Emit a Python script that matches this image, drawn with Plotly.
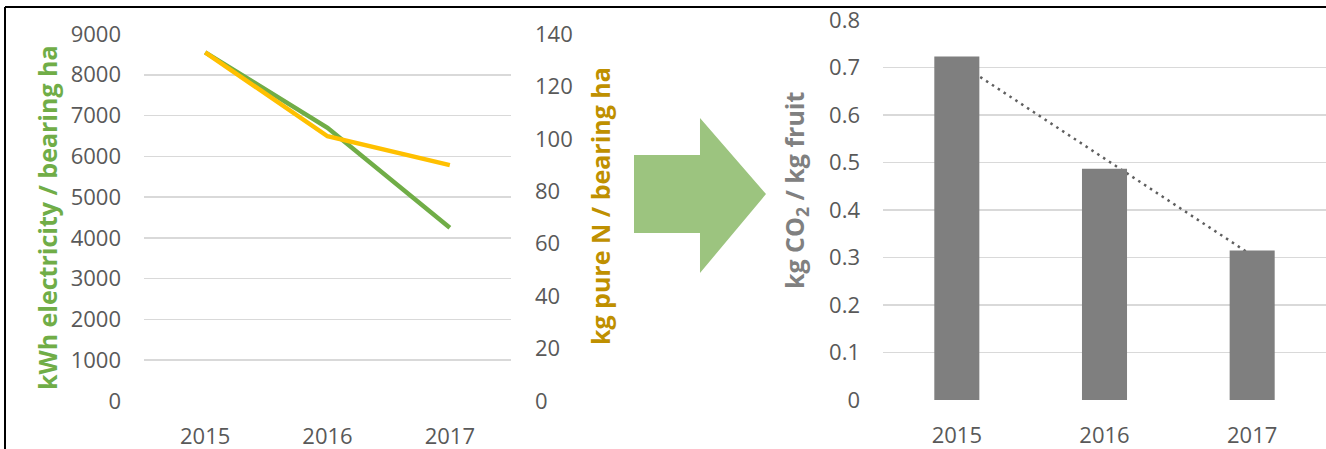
import numpy as np
import plotly.graph_objects as go

# ---- data ----
years = ["2015", "2016", "2017"]
kwh_electricity = [8550, 6700, 4250]      # kWh electricity / bearing ha
kg_pure_n = [133, 101, 90]                # kg pure N / bearing ha
kg_co2_per_kg = [0.723, 0.487, 0.315]     # kg CO2 / kg fruit

kwh_ticks = [0, 1000, 2000, 3000, 4000, 5000, 6000, 7000, 8000, 9000]
n_ticks = [0, 20, 40, 60, 80, 100, 120, 140]
co2_ticks = [0, 0.1, 0.2, 0.3, 0.4, 0.5, 0.6, 0.7, 0.8]

# linear trendline (as in the original chart)
idx = np.arange(len(years))
slope, icpt = np.polyfit(idx, kg_co2_per_kg, 1)
trend = list(slope * idx + icpt)

W, H = 1326, 449
FONT = "Open Sans"
TICK = "#595959"
GRID = "#D9D9D9"
GREEN = "#70AD47"
GOLD = "#FFC000"
GOLD_DARK = "#BF9000"
BAR = "#7F7F7F"


def px(x, y):
    return x / W, 1 - y / H


fig = go.Figure()

fig.add_trace(go.Scatter(x=years, y=kwh_electricity, mode="lines",
                         line=dict(color=GREEN, width=4.5),
                         xaxis="x", yaxis="y", name="kWh"))
fig.add_trace(go.Scatter(x=years, y=kg_pure_n, mode="lines",
                         line=dict(color=GOLD, width=4.5),
                         xaxis="x", yaxis="y2", name="N"))
fig.add_trace(go.Scatter(x=years, y=trend, mode="lines",
                         line=dict(color="#5F5F5F", width=2.5,
                                   dash="2.5px,4.5px"),
                         xaxis="x2", yaxis="y3", name="trend"))
fig.add_trace(go.Bar(x=years, y=kg_co2_per_kg, width=0.305,
                     marker=dict(color=BAR, line=dict(width=0)),
                     xaxis="x2", yaxis="y4", name="CO2"))

tickfont = dict(family=FONT, size=22, color=TICK)

x1d = [144 / W, 511 / W]
y1d = [1 - 401 / H, 1 - 34 / H]
x2d = [883 / W, 1.0]
y2d = [1 - 400 / H, 1 - 20 / H]

common = dict(automargin=False, zeroline=False, showline=False)

fig.update_layout(
    width=W, height=H,
    margin=dict(l=0, r=0, t=0, b=0, pad=0, autoexpand=False),
    paper_bgcolor="white", plot_bgcolor="white",
    showlegend=False,
    font=dict(family=FONT, color=TICK),
    xaxis=dict(domain=x1d, type="category", range=[-0.5, 2.5],
               showgrid=False, tickfont=tickfont, ticklabelstandoff=20,
               anchor="y", **common),
    yaxis=dict(domain=y1d, range=[0, 9000], tickvals=kwh_ticks,
               showgrid=True, gridcolor=GRID, gridwidth=1.5,
               tickfont=tickfont, ticklabelstandoff=22, anchor="x", **common),
    yaxis2=dict(range=[0, 140], tickvals=n_ticks, overlaying="y",
                side="right", anchor="x", showgrid=False,
                tickfont=tickfont, ticklabelstandoff=23, **common),
    xaxis2=dict(domain=x2d, type="category", range=[-0.5, 2.5],
                showgrid=False, tickfont=tickfont, ticklabelstandoff=20,
                anchor="y3", **common),
    yaxis3=dict(domain=y2d, range=[0, 0.8], tickvals=co2_ticks,
                tickformat=".1~f", showgrid=True, gridcolor=GRID,
                gridwidth=1.5, tickfont=tickfont, ticklabelstandoff=22,
                anchor="x2", **common),
    yaxis4=dict(range=[0, 0.8], overlaying="y3", anchor="x2",
                visible=False, showgrid=False, **common),
)

titlefont = dict(family=FONT, size=25)
ax, ay = px(28, 218)
fig.add_annotation(x=ax, y=ay, xref="paper", yref="paper", showarrow=False,
                   text="<b>kWh electricity / bearing ha</b>", textangle=-90,
                   font=dict(**titlefont, color=GREEN))
ax, ay = px(600, 206)
fig.add_annotation(x=ax, y=ay, xref="paper", yref="paper", showarrow=False,
                   text="<b>kg pure N / bearing ha</b>", textangle=-90,
                   font=dict(**titlefont, color=GOLD_DARK))
ax, ay = px(795, 191)
fig.add_annotation(x=ax, y=ay, xref="paper", yref="paper", showarrow=False,
                   text="<b>kg CO<sub>2</sub> / kg fruit</b>", textangle=-90,
                   font=dict(**titlefont, color="#808080"))

# block arrow
pts = [(634, 155), (700, 155), (700, 118), (766, 194), (700, 273),
       (700, 233), (634, 233)]
path = "M " + " L ".join(f"{px(x, y)[0]:.5f},{px(x, y)[1]:.5f}" for x, y in pts) + " Z"
fig.add_shape(type="path", path=path, xref="paper", yref="paper",
              fillcolor="#9CC47F", line=dict(width=0), layer="above")

# frame lines (top and left)
x0, y0 = px(5, 7)
fig.add_shape(type="line", x0=x0, y0=y0, x1=1, y1=y0, xref="paper",
              yref="paper", line=dict(color="black", width=2))
fig.add_shape(type="line", x0=x0, y0=y0, x1=x0, y1=0, xref="paper",
              yref="paper", line=dict(color="black", width=2))

fig.write_html(
    "out.html",
    config={"displayModeBar": False, "staticPlot": True},
    post_script=(
        "document.body.style.margin='0';"
        "document.body.style.padding='0';"
        "document.body.style.overflow='hidden';"
    ),
)
